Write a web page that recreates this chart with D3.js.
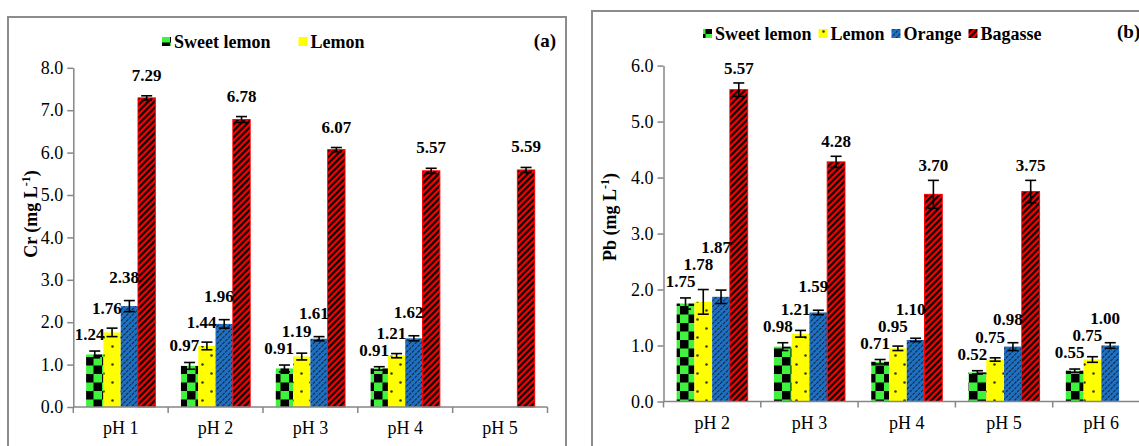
<!DOCTYPE html>
<html>
<head>
<meta charset="utf-8">
<script src="https://cdn.jsdelivr.net/npm/d3@7"></script>
<style>
  html, body { margin: 0; padding: 0; background: #fff; }
  svg { display: block; font-family: "Liberation Serif", "Times New Roman", serif; }
</style>
</head>
<body>
<div id="chart"></div>
<script>
// Series names shared by both panels
const seriesNames = ["Sweet lemon", "Lemon", "Orange", "Bagasse"];

// Panel (a): Cr
const crCategories = ["pH 1", "pH 2", "pH 3", "pH 4", "pH 5"];
const crSweetLemon = [1.24, 0.97, 0.91, 0.91, null];
const crLemon      = [1.76, 1.44, 1.19, 1.21, null];
const crOrange     = [2.38, 1.96, 1.61, 1.62, null];
const crBagasse    = [7.29, 6.78, 6.07, 5.57, 5.59];
const crSweetLemonErr = [0.08, 0.08, 0.08, 0.04, null];
const crLemonErr      = [0.10, 0.09, 0.08, 0.05, null];
const crOrangeErr     = [0.13, 0.10, 0.05, 0.06, null];
const crBagasseErr    = [0.05, 0.07, 0.05, 0.06, 0.06];
const crTicks = [0, 1, 2, 3, 4, 5, 6, 7, 8];

// Panel (b): Pb
const pbCategories = ["pH 2", "pH 3", "pH 4", "pH 5", "pH 6"];
const pbSweetLemon = [1.75, 0.98, 0.71, 0.52, 0.55];
const pbLemon      = [1.78, 1.21, 0.95, 0.75, 0.75];
const pbOrange     = [1.87, 1.59, 1.10, 0.98, 1.00];
const pbBagasse    = [5.57, 4.28, 3.70, 3.75, null];
const pbSweetLemonErr = [0.10, 0.07, 0.04, 0.03, 0.03];
const pbLemonErr      = [0.22, 0.06, 0.04, 0.03, 0.05];
const pbOrangeErr     = [0.12, 0.04, 0.03, 0.07, 0.05];
const pbBagasseErr    = [0.12, 0.10, 0.25, 0.20, null];
const pbTicks = [0, 1, 2, 3, 4, 5, 6];

const FONT = `"Liberation Serif", "Times New Roman", serif`;
const AXIS_COLOR = "#868686";

const svg = d3.select("#chart").append("svg")
    .attr("width", 1139)
    .attr("height", 446);

// Fill patterns (Excel-like)
const defs = svg.append("defs");

const checker = defs.append("pattern")
    .attr("id", "pat-sweet")
    .attr("patternUnits", "userSpaceOnUse")
    .attr("width", 17).attr("height", 17);
checker.append("rect").attr("width", 17).attr("height", 17).attr("fill", "#3ef23e");
checker.append("rect").attr("width", 8.5).attr("height", 8.5).attr("fill", "#000");
checker.append("rect").attr("x", 8.5).attr("y", 8.5).attr("width", 8.5).attr("height", 8.5).attr("fill", "#000");

const dots = defs.append("pattern")
    .attr("id", "pat-lemon")
    .attr("patternUnits", "userSpaceOnUse")
    .attr("width", 18).attr("height", 18);
dots.append("rect").attr("width", 18).attr("height", 18).attr("fill", "#ffff00");
dots.append("circle").attr("cx", 4.5).attr("cy", 4.5).attr("r", 1.3).attr("fill", "#333");
dots.append("circle").attr("cx", 13.5).attr("cy", 13.5).attr("r", 1.3).attr("fill", "#333");

const blueDiag = defs.append("pattern")
    .attr("id", "pat-orange")
    .attr("patternUnits", "userSpaceOnUse")
    .attr("width", 4).attr("height", 4)
    .attr("patternTransform", "rotate(45)");
blueDiag.append("rect").attr("width", 4).attr("height", 4).attr("fill", "#1f70c1");
blueDiag.append("line")
    .attr("x1", 0.5).attr("y1", 0).attr("x2", 0.5).attr("y2", 4)
    .attr("stroke", "#0b2540").attr("stroke-width", 1)
    .attr("stroke-dasharray", "2,1");

const redDiag = defs.append("pattern")
    .attr("id", "pat-bagasse")
    .attr("patternUnits", "userSpaceOnUse")
    .attr("width", 4.5).attr("height", 4.5)
    .attr("patternTransform", "rotate(45)");
redDiag.append("rect").attr("width", 4.5).attr("height", 4.5).attr("fill", "#ff0000");
redDiag.append("rect").attr("width", 2.2).attr("height", 4.5).attr("fill", "#000");

const seriesFill = ["url(#pat-sweet)", "url(#pat-lemon)", "url(#pat-orange)", "url(#pat-bagasse)"];
const seriesStroke = ["none", "none", "none", "#ff0000"];

const panels = [
    {
        box: { x: 8, y: 17, w: 558, h: 500 },
        left: 73.3, right: 547.5, top: 67.8, bottom: 407,
        categories: crCategories,
        values: [crSweetLemon, crLemon, crOrange, crBagasse],
        errors: [crSweetLemonErr, crLemonErr, crOrangeErr, crBagasseErr],
        ticks: crTicks,
        title: "Cr (mg L", titleX: 31, titleY: 214,
        tag: "(a)", tagX: 556, tagY: 47, tagAnchor: "end",
        legendSeries: [0, 1], legendX: 162, legendY: 42, legendGap: 28,
        bagGap: 15
    },
    {
        box: { x: 592, y: 11, w: 600, h: 500 },
        left: 663.5, right: 1150, top: 65.6, bottom: 401.5,
        categories: pbCategories,
        values: [pbSweetLemon, pbLemon, pbOrange, pbBagasse],
        errors: [pbSweetLemonErr, pbLemonErr, pbOrangeErr, pbBagasseErr],
        ticks: pbTicks,
        title: "Pb (mg L", titleX: 610, titleY: 217,
        tag: "(b)", tagX: 1117, tagY: 38, tagAnchor: "start",
        legendSeries: [0, 1, 2, 3], legendX: 703, legendY: 34, legendGap: 7,
        bagGap: 9
    }
];

panels.forEach(drawPanel);

function drawPanel(cfg) {
    const g = svg.append("g");

    // panel frame
    g.append("rect")
        .attr("x", cfg.box.x).attr("y", cfg.box.y)
        .attr("width", cfg.box.w).attr("height", cfg.box.h)
        .attr("fill", "none")
        .attr("stroke", "#8c8c8c")
        .attr("stroke-width", 2);

    // scales
    const yScale = d3.scaleLinear()
        .domain([0, d3.max(cfg.ticks)])
        .range([cfg.bottom, cfg.top]);

    const xScale = d3.scaleBand()
        .domain(cfg.categories)
        .range([cfg.left, cfg.right])
        .padding(0);

    const seriesScale = d3.scaleBand()
        .domain(d3.range(seriesNames.length))
        .range([0, xScale.bandwidth()])
        .paddingInner(0)
        .paddingOuter(0.74);

    // flatten data
    const points = [];
    cfg.categories.forEach((cat, ci) => {
        seriesNames.forEach((s, si) => {
            const v = cfg.values[si][ci];
            if (v == null) return;
            points.push({ cat, ci, si, value: v, err: cfg.errors[si][ci] || 0 });
        });
    });

    const barX = d => xScale(d.cat) + seriesScale(d.si);
    const bw = seriesScale.bandwidth();

    // bars
    g.selectAll(".bar")
        .data(points)
        .enter().append("rect")
        .attr("class", "bar")
        .attr("x", barX)
        .attr("y", d => yScale(d.value))
        .attr("width", bw)
        .attr("height", d => yScale(0) - yScale(d.value))
        .attr("fill", d => seriesFill[d.si])
        .attr("stroke", d => seriesStroke[d.si])
        .attr("stroke-width", 1);

    // error bars
    const errG = g.selectAll(".err")
        .data(points)
        .enter().append("g")
        .attr("class", "err")
        .attr("stroke", "#000")
        .attr("stroke-width", 1.6);
    errG.append("line")
        .attr("x1", d => barX(d) + bw / 2).attr("x2", d => barX(d) + bw / 2)
        .attr("y1", d => yScale(d.value - d.err)).attr("y2", d => yScale(d.value + d.err));
    errG.append("line")
        .attr("x1", d => barX(d) + bw / 2 - 5.5).attr("x2", d => barX(d) + bw / 2 + 5.5)
        .attr("y1", d => yScale(d.value + d.err)).attr("y2", d => yScale(d.value + d.err));
    errG.append("line")
        .attr("x1", d => barX(d) + bw / 2 - 5.5).attr("x2", d => barX(d) + bw / 2 + 5.5)
        .attr("y1", d => yScale(d.value - d.err)).attr("y2", d => yScale(d.value - d.err));

    // y axis
    const yAxis = g.append("g")
        .attr("transform", `translate(${cfg.left},0)`)
        .call(d3.axisLeft(yScale)
            .tickValues(cfg.ticks)
            .tickFormat(d3.format(".1f"))
            .tickSize(6)
            .tickSizeOuter(0)
            .tickPadding(4));
    yAxis.select(".domain").attr("stroke", AXIS_COLOR).attr("stroke-width", 1.5);
    yAxis.selectAll(".tick line").attr("stroke", AXIS_COLOR).attr("stroke-width", 1.5);
    yAxis.selectAll(".tick text")
        .attr("fill", "#000")
        .style("font-family", FONT)
        .style("font-size", "18px");

    // x axis (ticks between categories)
    const xAxis = g.append("g");
    xAxis.append("line")
        .attr("x1", cfg.left).attr("x2", cfg.right)
        .attr("y1", cfg.bottom).attr("y2", cfg.bottom)
        .attr("stroke", AXIS_COLOR).attr("stroke-width", 1.5);
    const boundaries = cfg.categories.map(c => xScale(c)).concat([xScale(cfg.categories[cfg.categories.length - 1]) + xScale.bandwidth()]);
    xAxis.selectAll(".xtick")
        .data(boundaries)
        .enter().append("line")
        .attr("x1", d => d).attr("x2", d => d)
        .attr("y1", cfg.bottom).attr("y2", cfg.bottom + 6)
        .attr("stroke", AXIS_COLOR).attr("stroke-width", 1.5);
    xAxis.selectAll(".xlabel")
        .data(cfg.categories)
        .enter().append("text")
        .attr("x", d => xScale(d) + xScale.bandwidth() / 2)
        .attr("y", cfg.bottom + 27)
        .attr("text-anchor", "middle")
        .style("font-family", FONT)
        .style("font-size", "18px")
        .attr("fill", "#000")
        .text(d => d);

    // data labels: fruit series right-aligned to the bar, stacked so they don't collide
    const labelY = new Map();
    cfg.categories.forEach((cat, ci) => {
        let prev = Infinity;
        points.filter(p => p.ci === ci && p.si < 3).forEach(p => {
            let y = yScale(p.value + p.err) - (11 + 3.5 * p.si);
            y = Math.min(y, prev - 17);
            prev = y;
            labelY.set(p, y);
        });
    });

    g.selectAll(".dlabel")
        .data(points)
        .enter().append("text")
        .attr("class", "dlabel")
        .attr("x", d => d.si < 3 ? barX(d) + bw + 1 : barX(d) + bw / 2)
        .attr("y", d => d.si < 3 ? labelY.get(d) : yScale(d.value + d.err) - cfg.bagGap)
        .attr("text-anchor", d => d.si < 3 ? "end" : "middle")
        .style("font-family", FONT)
        .style("font-size", "17px")
        .style("font-weight", "bold")
        .attr("fill", "#000")
        .text(d => d3.format(".2f")(d.value));

    // y axis title
    const title = g.append("text")
        .attr("transform", `translate(${cfg.titleX + 6},${cfg.titleY}) rotate(-90)`)
        .attr("text-anchor", "middle")
        .style("font-family", FONT)
        .style("font-size", "18px")
        .style("font-weight", "bold")
        .attr("fill", "#000");
    title.append("tspan").text(cfg.title);
    title.append("tspan").attr("dy", -7).style("font-size", "12px").text("-1");
    title.append("tspan").attr("dy", 7).text(")");

    // panel tag
    g.append("text")
        .attr("x", cfg.tagX).attr("y", cfg.tagY)
        .attr("text-anchor", cfg.tagAnchor)
        .style("font-family", FONT)
        .style("font-size", "19px")
        .style("font-weight", "bold")
        .attr("fill", "#000")
        .text(cfg.tag);

    // legend
    const legend = g.append("g");
    let lx = cfg.legendX;
    cfg.legendSeries.forEach(si => {
        legend.append("rect")
            .attr("x", lx).attr("y", cfg.legendY - 5)
            .attr("width", 9).attr("height", 9)
            .attr("fill", seriesFill[si]);
        const t = legend.append("text")
            .attr("x", lx + 12).attr("y", cfg.legendY + 6)
            .style("font-family", FONT)
            .style("font-size", "18px")
            .style("font-weight", "bold")
            .attr("fill", "#000")
            .text(seriesNames[si]);
        lx += 12 + t.node().getComputedTextLength() + cfg.legendGap;
    });
}
</script>
</body>
</html>
